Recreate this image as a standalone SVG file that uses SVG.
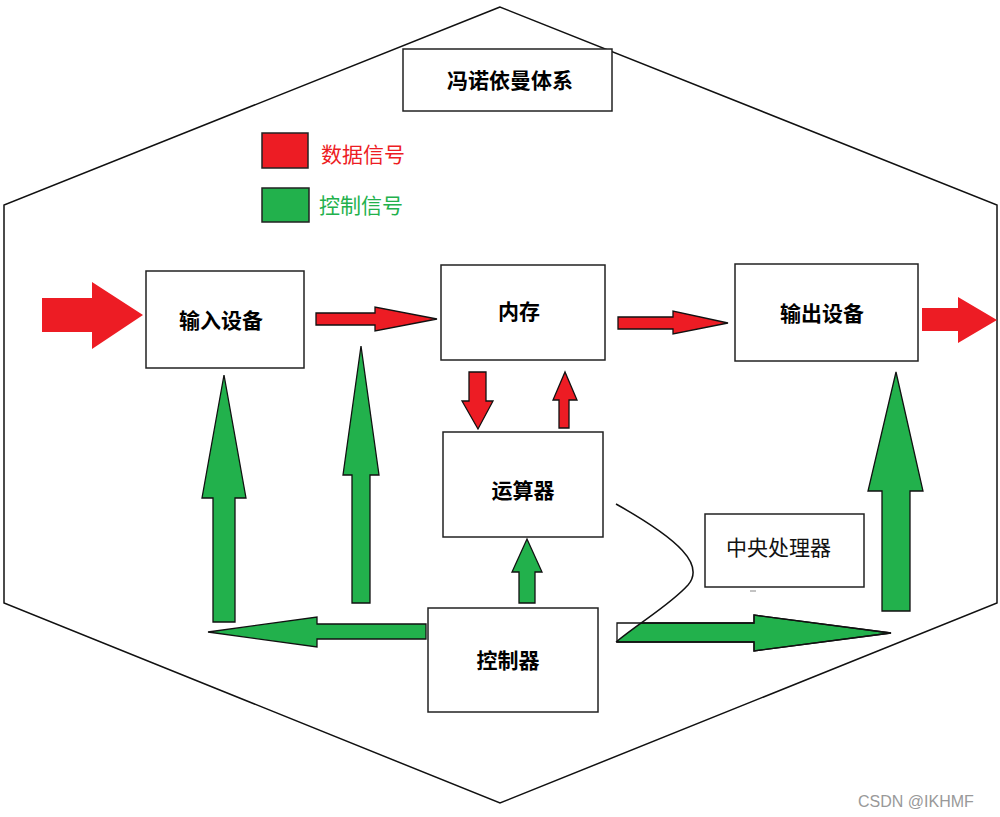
<svg xmlns="http://www.w3.org/2000/svg" width="1000" height="817" viewBox="0 0 1000 817">
<style>
.box{fill:#fff;stroke:#222;stroke-width:1.5}
.lbl{font-family:"Noto Sans CJK SC","Noto Sans",sans-serif;font-size:21px;font-weight:bold;fill:#000;text-anchor:middle}
.red{fill:#ED1C24;stroke:#111;stroke-width:1.3;stroke-linejoin:miter}
.redn{fill:#ED1C24;stroke:none}
.grn{fill:#22B14C;stroke:#111;stroke-width:1.3}
</style>
<rect width="1000" height="817" fill="#fff"/>
<polygon id="hexagon" points="500,7 4,205 4,603 500,803 997,603 997,205" fill="none" stroke="#111" stroke-width="1.5"/>

<g id="title"><rect class="box" x="403" y="49" width="209" height="62"/><text class="lbl" x="510" y="88">冯诺依曼体系</text></g>

<g id="legend">
<rect x="262" y="133" width="46" height="35" fill="#ED1C24" stroke="#222" stroke-width="1.5"/>
<text x="321" y="162" font-family="'Noto Sans CJK SC',sans-serif" font-size="21" fill="#ED1C24">数据信号</text>
<rect x="262" y="188" width="47" height="34" fill="#22B14C" stroke="#222" stroke-width="1.5"/>
<text x="319" y="213" font-family="'Noto Sans CJK SC',sans-serif" font-size="21" fill="#22B14C">控制信号</text>
</g>

<g id="input"><rect class="box" x="146" y="271" width="158" height="97"/><text class="lbl" x="221" y="328">输入设备</text></g>
<g id="memory"><rect class="box" x="441" y="265" width="164" height="95"/><text class="lbl" x="519" y="319">内存</text></g>
<g id="output"><rect class="box" x="735" y="264" width="183" height="97"/><text class="lbl" x="822" y="321">输出设备</text></g>
<g id="alu"><rect class="box" x="443" y="432" width="160" height="105"/><text class="lbl" x="523" y="498">运算器</text></g>
<g id="controller"><rect class="box" x="428" y="608" width="170" height="104"/><text class="lbl" x="508" y="668">控制器</text></g>
<g id="cpu"><rect class="box" x="705" y="514" width="159" height="73"/><text x="726" y="555" font-family="'Noto Sans CJK SC',sans-serif" font-size="21" fill="#111">中央处理器</text></g>

<g id="connectors">
<polygon class="redn" points="42,298 92,298 92,282 143,315 92,349 92,332 42,332"/>
<polygon class="red" points="316,313 375,313 375,307 437,319 375,331 375,325 316,325"/>
<polygon class="red" points="618,317 673,317 673,311 728,323 673,334 673,329 618,329"/>
<polygon class="redn" points="922,308 958,308 958,297 997,320 958,343 958,331 922,331"/>
<polygon class="red" points="469,372 486,372 486,401 493,401 478,429 462,401 469,401"/>
<polygon class="red" points="559,428 569,428 569,400 577,400 565,372 553,400 559,400"/>
<polygon class="grn" points="213,622 235,622 235,498 246,498 224,375 202,498 213,498"/>
<polygon class="grn" points="352,603 370,603 370,475 379,475 361,346 343,475 352,475"/>
<polygon class="grn" points="426,624 317,624 317,617 208,632 317,647 317,639 426,639"/>
<polygon class="grn" points="519,603 535,603 535,572 542,572 527,539 512,572 519,572"/>
<polygon class="grn" points="882,611 910,611 910,491 923,491 896,372 868,491 882,491"/>
<polygon class="grn" points="617,623 754,623 754,615 891,633 754,651 754,642 617,642"/>
<path d="M616,504 C680,540 705,565 688,585 C670,605 640,622 616,642 Z" fill="#fff" stroke="none"/>
<polygon points="617,623 754,623 754,615 891,633 754,651 754,642 617,642" fill="none" stroke="#111" stroke-width="1.3"/>
<path d="M616,504 C680,540 705,565 688,585 C670,605 640,622 616,642" fill="none" stroke="#111" stroke-width="1.5"/>
<line x1="750" y1="591" x2="756" y2="591" stroke="#888" stroke-width="1"/>
</g>

<text x="858" y="807" font-family="'Liberation Sans',Arial,sans-serif" font-size="16" fill="#999">CSDN @IKHMF</text>
</svg>
